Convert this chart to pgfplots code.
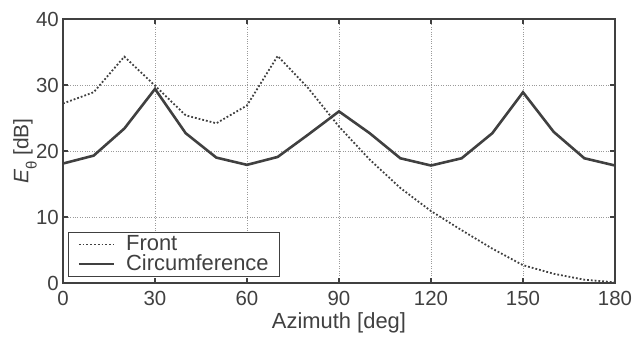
\documentclass[border=0pt]{standalone}
\usepackage{fontspec}
\setmainfont{Liberation Sans}
\usepackage{pgfplots}
\pgfplotsset{compat=1.18}
\definecolor{ink}{HTML}{404040}
\definecolor{gridc}{HTML}{9A9A9A}
\begin{document}
\fontsize{20.5}{24}\selectfont
\begin{tikzpicture}
\useasboundingbox (-63bp,-54bp) rectangle (571bp,283bp);
\begin{axis}[
  at={(0,0)}, anchor=south west,
  scale only axis,
  width=552bp, height=264bp,
  xmin=0, xmax=180, ymin=0, ymax=40,
  xtick={0,30,...,180}, ytick={0,10,20,30,40},
  grid=major,
  major grid style={gridc, dotted, line width=0.8pt},
  axis line style={ink, line width=1.2pt},
  tick style={ink, line width=1.2pt},
  major tick length=5bp,
  tick align=inside,
  ticklabel style={font=\fontsize{20.5}{24}\selectfont, text=ink, inner sep=0pt},
  xticklabel style={yshift=-8bp},
  yticklabel style={xshift=-4bp},
  /pgf/number format/assume math mode=true,
  xlabel={Azimuth [deg]},
  xlabel style={font=\fontsize{22}{26}\selectfont, text=ink, at={(rel axis cs:0.5,0)}, anchor=center, yshift=-40bp},
  ylabel={\textit{E}\raisebox{-0.4em}{\fontsize{15}{16}\selectfont θ} [dB]},
  ylabel style={font=\fontsize{21}{24}\selectfont, text=ink, at={(rel axis cs:0,0.5)}, anchor=center, yshift=38bp},
  legend style={at={(0.009,0.022)}, anchor=south west, draw=ink, line width=1.2pt,
    font=\fontsize{22}{26}\selectfont, text=ink, inner xsep=9bp, inner ysep=1bp,
    row sep=-3bp, cells={anchor=west}},
  legend image code/.code={\draw[#1] (0bp,0bp) -- (35bp,0bp);},
]
\addplot[ink, dotted, line width=1.8pt] coordinates {
(0,27.2) (10,28.9) (20,34.3) (30,29.9) (40,25.4) (50,24.2) (60,26.9) (70,34.4)
(80,29.5) (90,23.7) (100,18.7) (110,14.4) (120,10.9) (130,8.0) (140,5.2)
(150,2.7) (160,1.4) (170,0.5) (180,0.1)};
\addlegendentry{\hspace*{9bp}Front}
\addplot[ink, line width=2.6pt, line join=miter] coordinates {
(0,18.1) (10,19.3) (20,23.4) (30,29.4) (40,22.7) (50,19.0) (60,17.9) (70,19.1)
(80,22.5) (90,26.0) (100,22.7) (110,18.9) (120,17.8) (130,18.9) (140,22.7)
(150,28.9) (160,22.9) (170,18.9) (180,17.8)};
\addlegendentry{\hspace*{9bp}Circumference}
\end{axis}
\end{tikzpicture}
\end{document}
